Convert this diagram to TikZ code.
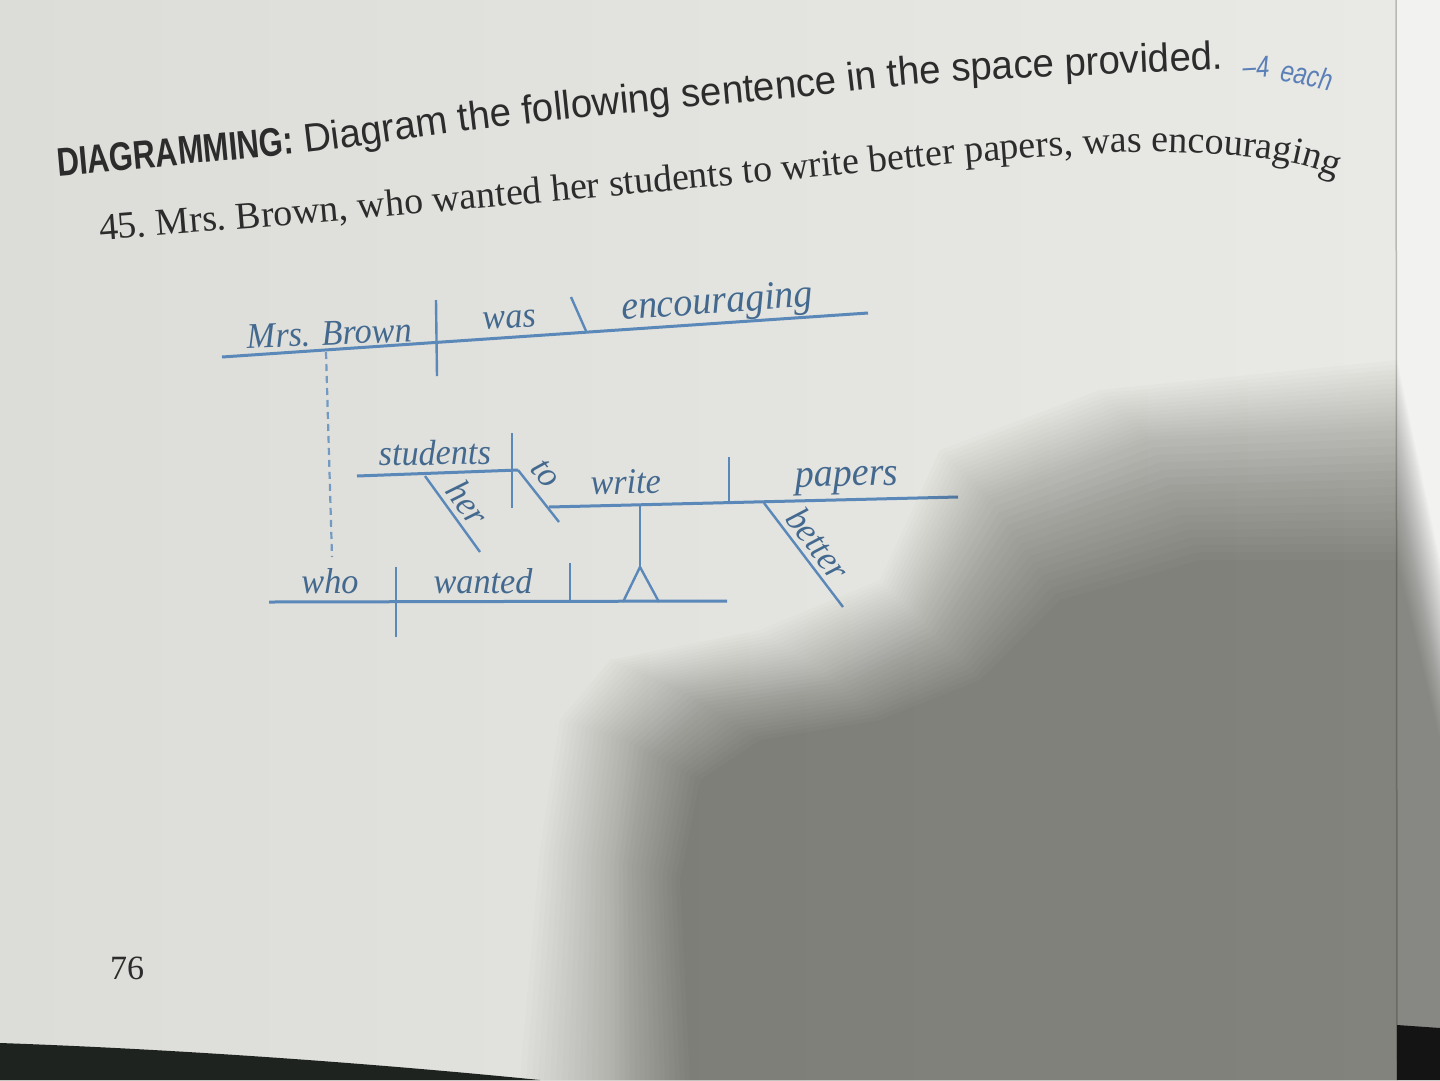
\documentclass[tikz,border=0pt]{standalone}
\usepackage{fontspec}
\usetikzlibrary{calc,decorations.text}
\setmainfont{Liberation Serif}
\newfontfamily\hsans[FakeStretch=0.96]{Liberation Sans}
\newfontfamily\hsansn[FakeStretch=0.77]{Liberation Sans}
\newfontfamily\dserif[FakeStretch=0.95]{Liberation Serif}
\newfontfamily\psans[FakeStretch=0.8]{Liberation Sans}
\definecolor{pageL}{HTML}{DCDCD8}
\definecolor{pageR}{HTML}{E9E9E6}
\definecolor{stripc}{HTML}{F2F2F1}
\definecolor{edgec}{HTML}{B9B9B4}
\definecolor{inkc}{HTML}{2C2C2C}
\definecolor{linec}{HTML}{5A88B8}
\definecolor{wordc}{HTML}{44698F}
\definecolor{ptsc}{HTML}{5B80B8}
\definecolor{shadowc}{RGB}{38,38,30}
\definecolor{tablec}{HTML}{1E2320}
\newcommand\hbfmt{\color{inkc}\hsansn\bfseries\fontsize{40}{42}\selectfont}
\newcommand\hrfmt{\color{inkc}\hsans\fontsize{40}{42}\selectfont}
\newcommand\qrfmt{\color{inkc}\rmfamily\fontsize{38}{40}\selectfont}
\begin{document}
\begin{tikzpicture}[x=1pt,y=1pt,
  dline/.style={draw=linec,line width=3pt},
  dtick/.style={draw=linec,line width=2.4pt},
  dw/.style={font=\dserif\itshape\fontsize{36}{38}\selectfont,text=wordc,inner sep=0pt},
  dwb/.style={dw,anchor=base},
  dwbig/.style={dwb,font=\dserif\itshape\fontsize{40}{42}\selectfont},
  slab/.style={dw,sloped,above=#1},
  slab/.default=5pt]
\useasboundingbox (0,0) rectangle (1440,-1080);
% page
\shade[left color=pageL,right color=pageR] (0,0) rectangle (1397,-1080);
\fill[stripc] (1397,0) rectangle (1440,-1080);
\draw[edgec,line width=1.5pt] (1396,0) -- (1397,-1080);

% header
\path[decorate,decoration={text along path,
  text={|\hbfmt|DIAGRAMMING:|\hrfmt| Diagram the following sentence in the space provided.},
  text align=left}]
  plot[smooth,tension=0.6] coordinates {(58,-176) (300,-153) (480,-129) (640,-112) (800,-97) (950,-82) (1236,-69) (1320,-66)};
\node[font=\psans\itshape\fontsize{30}{32}\selectfont,text=ptsc,anchor=base west,rotate=3,inner sep=0pt] (four) at (1243,-78) {–4};
\node[font=\psans\itshape\fontsize{30}{32}\selectfont,text=ptsc,anchor=base west,rotate=-12,inner sep=0pt] (each) at (1279,-80) {each};
\path[decorate,decoration={text along path,
  text={|\qrfmt|45. Mrs. Brown, who wanted her students to write better papers, was encouraging},
  text align=left}]
  plot[smooth,tension=0.6] coordinates {(100,-240) (300,-224) (503,-206) (700,-188) (870,-172) (1000,-160) (1150,-152) (1280,-161) (1354,-183) (1410,-205)};

% diagram coordinates
\coordinate (tL) at (222,-357); \coordinate (tR) at (868,-313);
\coordinate (d1t) at (436,-300); \coordinate (d1b) at (437,-376);
\coordinate (bs1) at (571,-297); \coordinate (bs2) at (586,-331);
\coordinate (dsh1) at (326,-352); \coordinate (dsh2) at (332,-557);
\coordinate (sL) at (357,-476); \coordinate (sR) at (518,-470);
\coordinate (vb1) at (512,-433); \coordinate (vb2) at (512,-508);
\coordinate (toE) at (559,-522);
\coordinate (h1) at (425,-476); \coordinate (h2) at (480,-552);
\coordinate (wL) at (549,-507); \coordinate (wR) at (958,-497);
\coordinate (do1) at (729,-457); \coordinate (do2) at (729,-502);
\coordinate (b1) at (764,-503); \coordinate (b2) at (843,-607);
\coordinate (st) at (640,-506); \coordinate (fk) at (640,-567);
\coordinate (fl) at (623,-602); \coordinate (fr) at (659,-602);
\coordinate (qL) at (269,-602); \coordinate (qR) at (727,-601);
\coordinate (q1) at (396,-567); \coordinate (q2) at (396,-637);
\coordinate (q3) at (570,-563); \coordinate (q4) at (570,-602);

% main clause
\draw[dline] (tL) -- (tR);
\draw[dtick] (d1t) -- (d1b);
\draw[dtick] (bs1) -- (bs2);
\node[dwb,rotate=2.5] (mrs) at (330,-345) {Mrs. Brown};
\node[dwb,rotate=4] (was) at (510,-328) {was};
\node[dwbig,rotate=4] (enc) at (718,-313) {encouraging};
% relative clause link
\draw[linec!85,line width=2.2pt,dash pattern=on 7pt off 5pt] (dsh1) -- (dsh2);
% infinitive phrase
\draw[dline] (sL) -- (sR);
\node[dwb,rotate=1] (stud) at (435,-465) {students};
\draw[dtick] (vb1) -- (vb2);
\draw[dtick] (sR) -- (toE) node[slab=8pt,pos=0.3] (to) {to};
\draw[dtick] (h1) -- (h2) node[slab,pos=0.5] (her) {her};
\draw[dline] (wL) -- (wR);
\node[dwb,rotate=1] (write) at (626,-494) {write};
\draw[dtick] (do1) -- (do2);
\node[dwbig,rotate=1.5] (papers) at (847,-486) {papers};
\draw[dtick] (b1) -- (b2) node[slab,pos=0.5] (better) {better};
% pedestal
\draw[dtick] (st) -- (fk);
\draw[dtick,line join=miter] (fl) -- (fk) -- (fr);
% who wanted
\draw[dline] (qL) -- (qR);
\draw[dtick] (q1) -- (q2);
\draw[dtick] (q3) -- (q4);
\node[dwb] (who) at (330,-593) {who};
\node[dwb] (wanted) at (483,-593) {wanted};

% page number
\node[font=\rmfamily\fontsize{34}{36}\selectfont,text=inkc] (pg) at (127,-968) {76};

% shadow (soft, layered): outer O -> middle M -> core I
\coordinate (O1) at (520,-1080);  \coordinate (M1) at (610,-1080);  \coordinate (I1) at (690,-1080);
\coordinate (O2) at (540,-850);   \coordinate (M2) at (610,-860);   \coordinate (I2) at (680,-880);
\coordinate (O3) at (560,-720);   \coordinate (M3) at (625,-740);   \coordinate (I3) at (700,-780);
\coordinate (O4) at (610,-660);   \coordinate (M4) at (680,-690);   \coordinate (I4) at (760,-740);
\coordinate (O5) at (760,-630);   \coordinate (M5) at (820,-670);   \coordinate (I5) at (880,-720);
\coordinate (O6) at (880,-580);   \coordinate (M6) at (920,-620);   \coordinate (I6) at (980,-680);
\coordinate (O7) at (940,-450);   \coordinate (M7) at (990,-500);   \coordinate (I7) at (1060,-600);
\coordinate (O8) at (1100,-390);  \coordinate (M8) at (1150,-440);  \coordinate (I8) at (1200,-560);
\coordinate (O9) at (1397,-360);  \coordinate (M9) at (1397,-430);  \coordinate (I9) at (1397,-560);
\coordinate (O10) at (1440,-560); \coordinate (M10) at (1440,-640); \coordinate (I10) at (1440,-740);
\coordinate (O11) at (1440,-1080);\coordinate (M11) at (1440,-1080);\coordinate (I11) at (1440,-1080);
\foreach \i in {0,...,15}{
  \pgfmathsetmacro\t{\i/15}
  \fill[shadowc,opacity=0.017] ($(O1)!\t!(M1)$) -- ($(O2)!\t!(M2)$) -- ($(O3)!\t!(M3)$)
    -- ($(O4)!\t!(M4)$) -- ($(O5)!\t!(M5)$) -- ($(O6)!\t!(M6)$) -- ($(O7)!\t!(M7)$)
    -- ($(O8)!\t!(M8)$) -- ($(O9)!\t!(M9)$) -- ($(O10)!\t!(M10)$) -- ($(O11)!\t!(M11)$) -- cycle;
}
\foreach \i in {1,...,16}{
  \pgfmathsetmacro\t{\i/16}
  \fill[shadowc,opacity=0.024] ($(M1)!\t!(I1)$) -- ($(M2)!\t!(I2)$) -- ($(M3)!\t!(I3)$)
    -- ($(M4)!\t!(I4)$) -- ($(M5)!\t!(I5)$) -- ($(M6)!\t!(I6)$) -- ($(M7)!\t!(I7)$)
    -- ($(M8)!\t!(I8)$) -- ($(M9)!\t!(I9)$) -- ($(M10)!\t!(I10)$) -- ($(M11)!\t!(I11)$) -- cycle;
}
% table and corner
\fill[tablec] (0,-1043) .. controls (200,-1050) and (400,-1066) .. (540,-1080) -- (0,-1080) -- cycle;
\fill[black!92] (1397,-1025) -- (1440,-1028) -- (1440,-1080) -- (1397,-1080) -- cycle;
\end{tikzpicture}
\end{document}
